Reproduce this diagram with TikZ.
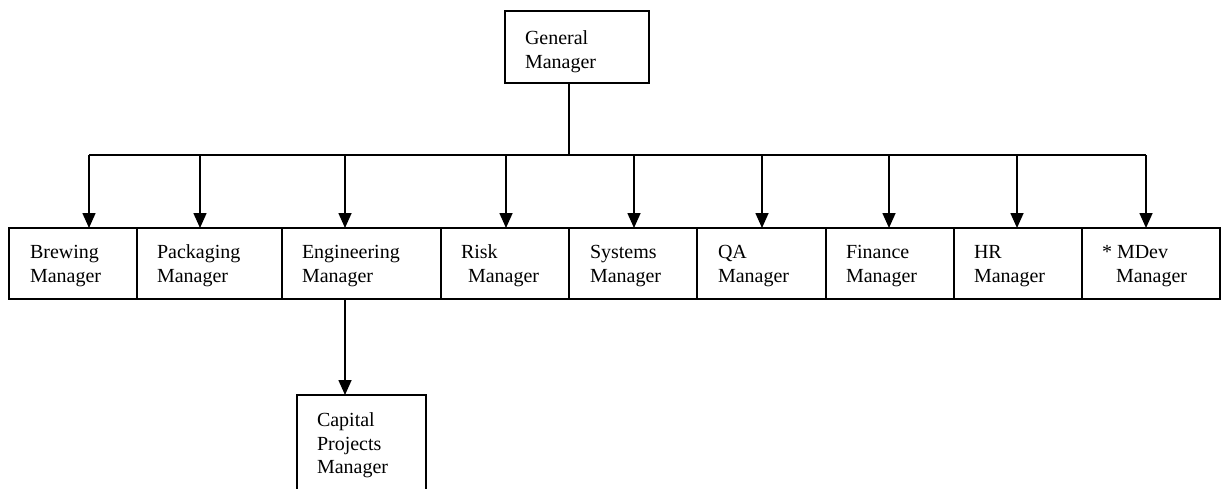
\documentclass[tikz,border=0pt]{standalone}
\usepackage{fontspec}
\setmainfont{Liberation Serif}
\usetikzlibrary{arrows.meta}
\begin{document}
\begin{tikzpicture}[x=1pt,y=-1pt,
  box/.style={draw,line width=1.5pt,inner sep=0pt,outer sep=0pt,anchor=north west,minimum height=71pt},
  txt/.style={inner sep=0pt,outer sep=0pt,anchor=north west,align=left,font=\fontsize{20}{24}\selectfont},
  conn/.style={line width=1.6pt},
  arr/.style={line width=1.6pt,-{Triangle[width=13pt,length=15pt]}}]
\clip (0,0) rectangle (1223,488);
% boxes
\node[box,minimum width=144pt,minimum height=72pt] (gm) at (505,11) {};
\node[box,minimum width=128pt] (brew) at (9,228) {};
\node[box,minimum width=145pt] (pack) at (137,228) {};
\node[box,minimum width=159pt] (eng) at (282,228) {};
\node[box,minimum width=128pt] (risk) at (441,228) {};
\node[box,minimum width=128pt] (sys) at (569,228) {};
\node[box,minimum width=129pt] (qa) at (697,228) {};
\node[box,minimum width=128pt] (fin) at (826,228) {};
\node[box,minimum width=128pt] (hr) at (954,228) {};
\node[box,minimum width=138pt] (mdev) at (1082,228) {};
\node[box,minimum width=129pt,minimum height=110pt] (cap) at (297,395) {};
% texts
\node[txt] (tgm) at (525,30.5) {General\\Manager};
\node[txt] (tbrew) at (30,245) {Brewing\\Manager};
\node[txt] (tpack) at (157,245) {Packaging\\Manager};
\node[txt] (teng) at (302,245) {Engineering\\Manager};
\node[txt] (trisk) at (461,245) {Risk\\\hspace*{7pt}Manager};
\node[txt] (tsys) at (590,245) {Systems\\Manager};
\node[txt] (tqa) at (718,245) {QA\\Manager};
\node[txt] (tfin) at (846,245) {Finance\\Manager};
\node[txt] (thr) at (974,245) {HR\\Manager};
\node[txt] (tmdev) at (1102,245) {* MDev\\\hspace*{14pt}Manager};
\node[txt,font=\fontsize{20}{23.5}\selectfont] (tcap) at (317,413) {Capital\\Projects\\Manager};
% bus
\coordinate (j) at (569,155);
\coordinate (b1) at (89,155);
\coordinate (b2) at (200,155);
\coordinate (b3) at (345,155);
\coordinate (b4) at (506,155);
\coordinate (b5) at (634,155);
\coordinate (b6) at (762,155);
\coordinate (b7) at (889,155);
\coordinate (b8) at (1017,155);
\coordinate (b9) at (1146,155);
\coordinate (ec) at (345,299);
\draw[conn] (gm.south -| j) -- (j);
\draw[conn] (b1) -- (b9);
\draw[arr] (b1) -- (b1 |- brew.north);
\draw[arr] (b2) -- (b2 |- pack.north);
\draw[arr] (b3) -- (b3 |- eng.north);
\draw[arr] (b4) -- (b4 |- risk.north);
\draw[arr] (b5) -- (b5 |- sys.north);
\draw[arr] (b6) -- (b6 |- qa.north);
\draw[arr] (b7) -- (b7 |- fin.north);
\draw[arr] (b8) -- (b8 |- hr.north);
\draw[arr] (b9) -- (b9 |- mdev.north);
\draw[arr] (eng.south -| ec) -- (ec |- cap.north);
\end{tikzpicture}
\end{document}
